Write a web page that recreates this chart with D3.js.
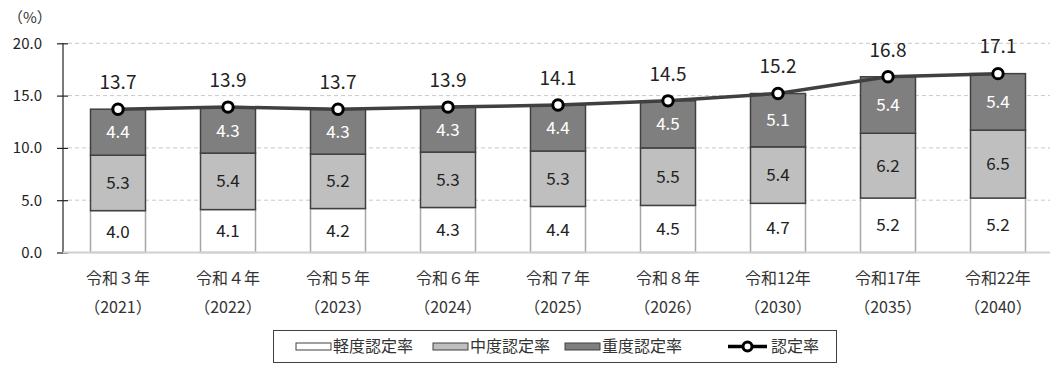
<!DOCTYPE html>
<html>
<head>
<meta charset="utf-8">
<script src="https://cdn.jsdelivr.net/npm/d3@7"></script>
<style>
  html, body { margin: 0; padding: 0; background: #fff; }
  svg { display: block; font-family: "Noto Sans CJK JP", "Noto Sans", sans-serif; }
</style>
</head>
<body>
<svg id="chart" width="1050" height="365"></svg>
<script>
// Categories (era year + western year)
const eraLabels = ["令和３年", "令和４年", "令和５年", "令和６年", "令和７年", "令和８年", "令和12年", "令和17年", "令和22年"];
const yearLabels = ["（2021）", "（2022）", "（2023）", "（2024）", "（2025）", "（2026）", "（2030）", "（2035）", "（2040）"];

// Certification rates (%)
const mild     = [4.0, 4.1, 4.2, 4.3, 4.4, 4.5, 4.7, 5.2, 5.2];
const moderate = [5.3, 5.4, 5.2, 5.3, 5.3, 5.5, 5.4, 6.2, 6.5];
const severe   = [4.4, 4.3, 4.3, 4.3, 4.4, 4.5, 5.1, 5.4, 5.4];
const total    = [13.7, 13.9, 13.7, 13.9, 14.1, 14.5, 15.2, 16.8, 17.1];

const yTicks = [0, 5, 10, 15, 20];
const seriesNames = ["軽度認定率", "中度認定率", "重度認定率", "認定率"];

const svg = d3.select("#chart");
const plotLeft = 63, plotRight = 1053, plotTop = 43.3, plotBottom = 252.5;

const x = d3.scaleBand().domain(d3.range(eraLabels.length)).range([plotLeft, plotRight]).paddingInner(0.5).paddingOuter(0.25);
const y = d3.scaleLinear().domain([0, 20]).range([plotBottom, plotTop]);

// Gridlines
svg.append("g").selectAll("line").data(yTicks.filter(t => t > 0)).join("line")
  .attr("x1", plotLeft + 5).attr("x2", 1050)
  .attr("y1", d => y(d)).attr("y2", d => y(d))
  .attr("stroke", "#c8c8c8").attr("stroke-width", 1).attr("stroke-dasharray", "4,3");

// Y axis
const yAxis = d3.axisLeft(y).tickValues(yTicks).tickFormat(d3.format(".1f")).tickSize(0).tickPadding(21);
const ya = svg.append("g").attr("transform", `translate(${plotLeft},0)`).call(yAxis);
ya.select(".domain").remove();
ya.selectAll("text").attr("font-size", 15).attr("fill", "#222").attr("font-family", "'Noto Sans CJK JP', sans-serif");
ya.selectAll(".tick").append("line").attr("x1", -6).attr("x2", 5).attr("stroke", "#222").attr("stroke-width", 1.2);
svg.append("line").attr("x1", plotLeft).attr("x2", plotLeft).attr("y1", y(20)).attr("y2", y(0))
  .attr("stroke", "#222").attr("stroke-width", 1.2);

svg.append("text").attr("x", 8).attr("y", 18).attr("dy", "0.36em").attr("font-size", 15).attr("fill", "#333").text("（%）");

// Stacked bars
const stackData = mild.map((d, i) => ({ i, mild: d, moderate: moderate[i], severe: severe[i] }));
const stack = d3.stack().keys(["mild", "moderate", "severe"])(stackData);
const fills = { mild: "#ffffff", moderate: "#bfbfbf", severe: "#7f7f7f" };
const strokes = { mild: "#a6a6a6", moderate: "#404040", severe: "#404040" };
const textFill = { mild: "#222", moderate: "#222", severe: "#fff" };

stack.forEach(layer => {
  const g = svg.append("g");
  g.selectAll("rect").data(layer).join("rect")
    .attr("x", d => x(d.data.i))
    .attr("width", x.bandwidth())
    .attr("y", d => y(d[1]))
    .attr("height", d => y(d[0]) - y(d[1]))
    .attr("fill", fills[layer.key])
    .attr("stroke", strokes[layer.key])
    .attr("stroke-width", 1.5);
});

// Baseline
svg.append("line").attr("x1", plotLeft).attr("x2", 1050).attr("y1", y(0)).attr("y2", y(0))
  .attr("stroke", "#d0d0d0").attr("stroke-width", 2);

// Segment labels
stack.forEach(layer => {
  svg.append("g").selectAll("text").data(layer).join("text")
    .attr("x", d => x(d.data.i) + x.bandwidth() / 2)
    .attr("y", d => (y(d[0]) + y(d[1])) / 2)
    .attr("dy", "0.36em")
    .attr("text-anchor", "middle")
    .attr("font-size", 17)
    .attr("fill", textFill[layer.key])
    .text(d => d.data[layer.key].toFixed(1));
});

// Total line with markers
const cx = i => x(i) + x.bandwidth() / 2;
svg.append("path").datum(total)
  .attr("d", d3.line().x((d, i) => cx(i)).y(d => y(d)))
  .attr("fill", "none").attr("stroke", "#404040").attr("stroke-width", 3.5);
svg.append("g").selectAll("circle").data(total).join("circle")
  .attr("cx", (d, i) => cx(i)).attr("cy", d => y(d)).attr("r", 5.2)
  .attr("fill", "#fff").attr("stroke", "#000").attr("stroke-width", 3);
svg.append("g").selectAll("text").data(total).join("text")
  .attr("x", (d, i) => cx(i)).attr("y", d => y(d) - 27)
  .attr("dy", "0.36em")
  .attr("text-anchor", "middle").attr("font-size", 19).attr("fill", "#222")
  .text(d => d.toFixed(1));

// Category labels
const xl = svg.append("g");
xl.selectAll("text.era").data(eraLabels).join("text").attr("class", "era")
  .attr("x", (d, i) => cx(i)).attr("y", 278).attr("dy", "0.36em")
  .attr("text-anchor", "middle").attr("font-size", 16).attr("fill", "#333").text(d => d);
xl.selectAll("text.yr").data(yearLabels).join("text").attr("class", "yr")
  .attr("x", (d, i) => cx(i)).attr("y", 307).attr("dy", "0.36em")
  .attr("text-anchor", "middle").attr("font-size", 16).attr("fill", "#333").text(d => d);

// Legend
const lg = svg.append("g");
lg.append("rect").attr("x", 273.5).attr("y", 330.5).attr("width", 563).attr("height", 32)
  .attr("fill", "#fff").attr("stroke", "#404040").attr("stroke-width", 1);
const ly = 346.5;
const swatches = [
  { key: "mild", x: 296 },
  { key: "moderate", x: 433 },
  { key: "severe", x: 565 }
];
swatches.forEach((s, k) => {
  lg.append("rect").attr("x", s.x).attr("y", ly - 3.5).attr("width", 35).attr("height", 7)
    .attr("fill", fills[s.key]).attr("stroke", "#404040").attr("stroke-width", 1);
  lg.append("text").attr("x", s.x + 37).attr("y", ly).attr("dy", "0.36em")
    .attr("font-size", 16).attr("fill", "#333").text(seriesNames[k]);
});
lg.append("line").attr("x1", 728).attr("x2", 767).attr("y1", ly).attr("y2", ly)
  .attr("stroke", "#000").attr("stroke-width", 3.5);
lg.append("circle").attr("cx", 747.5).attr("cy", ly).attr("r", 4.5)
  .attr("fill", "#fff").attr("stroke", "#000").attr("stroke-width", 3);
lg.append("text").attr("x", 771).attr("y", ly).attr("dy", "0.36em")
  .attr("font-size", 16).attr("fill", "#333").text(seriesNames[3]);
</script>
</body>
</html>
